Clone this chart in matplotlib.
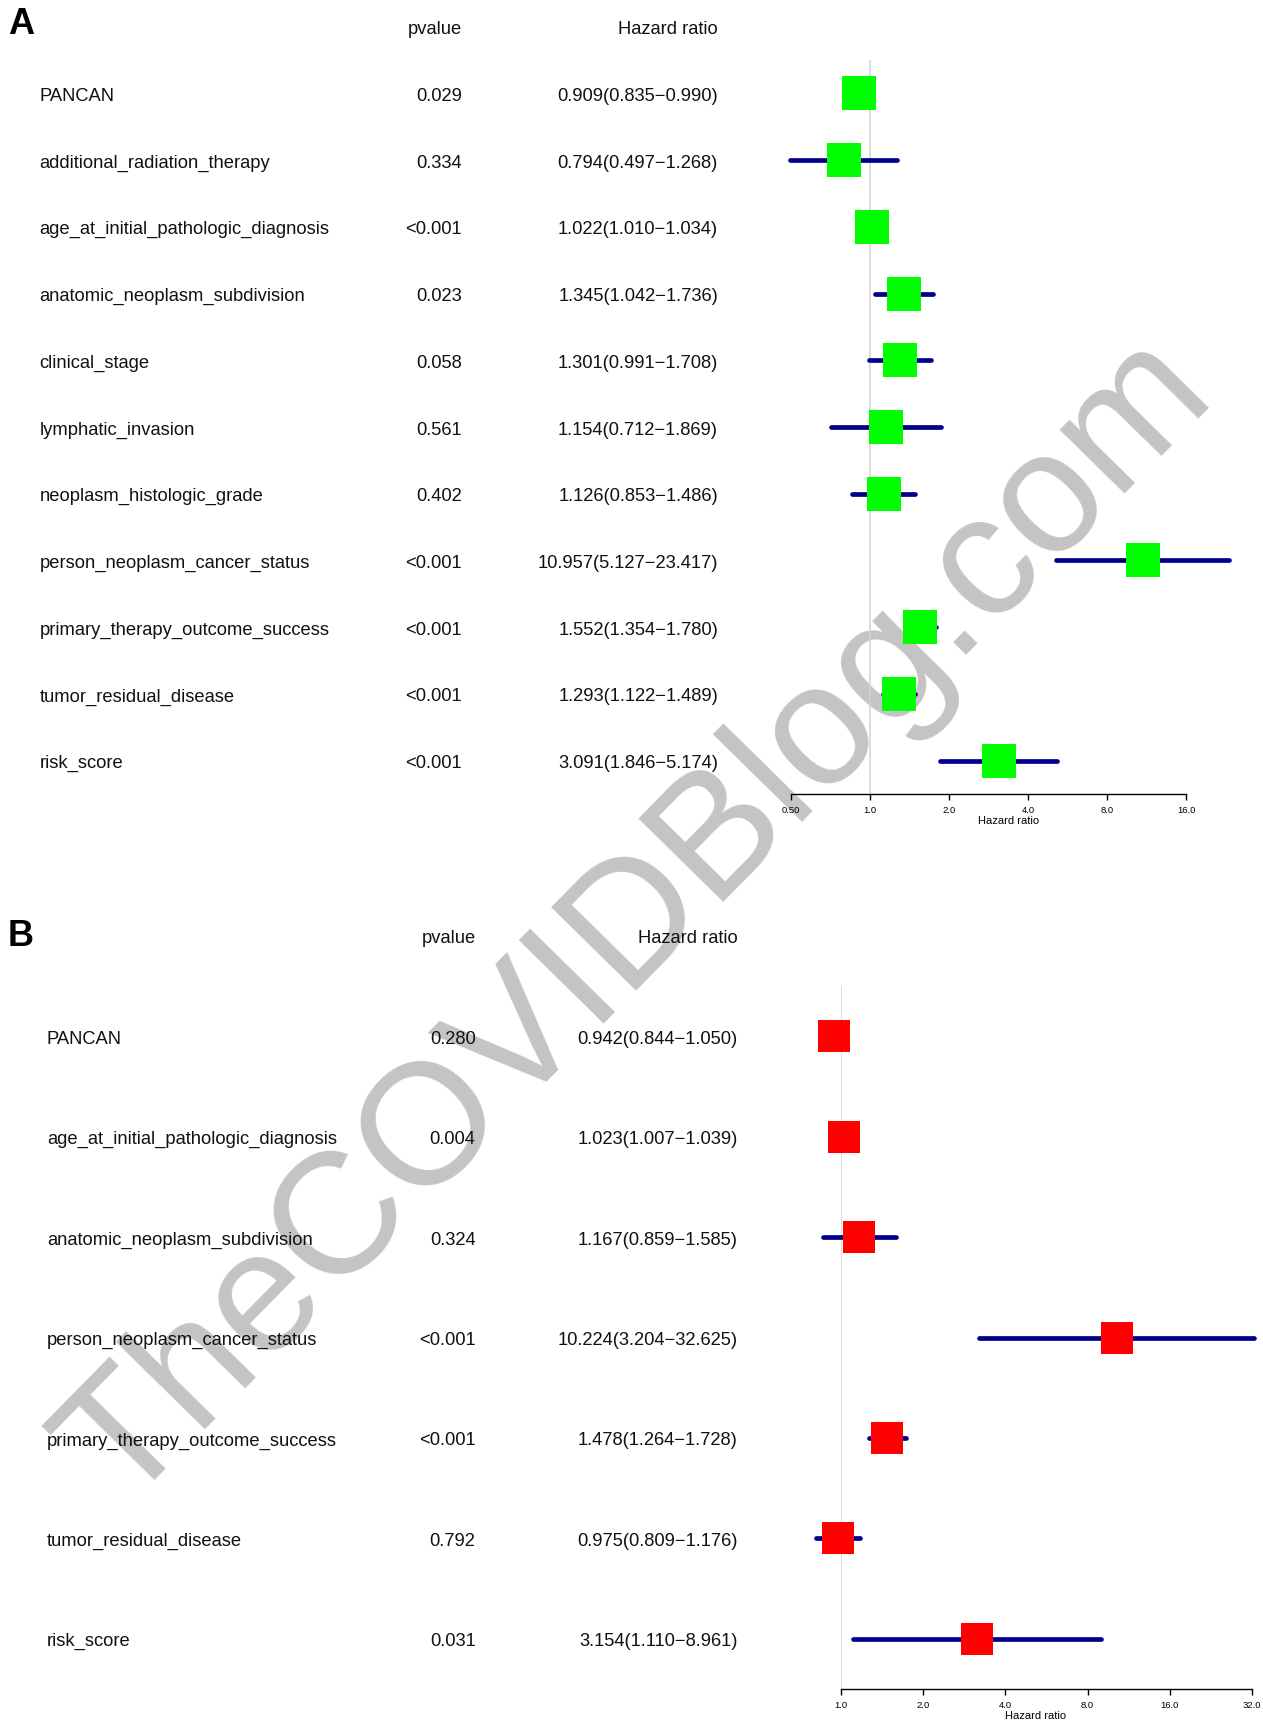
import matplotlib
matplotlib.use("Agg")
import matplotlib.pyplot as plt
import matplotlib.transforms as mtransforms
import numpy as np

plt.rcParams['font.family'] = ['Liberation Sans', 'DejaVu Sans']

# ---------------- data ----------------
a_names = ["PANCAN", "additional_radiation_therapy", "age_at_initial_pathologic_diagnosis",
           "anatomic_neoplasm_subdivision", "clinical_stage", "lymphatic_invasion",
           "neoplasm_histologic_grade", "person_neoplasm_cancer_status",
           "primary_therapy_outcome_success", "tumor_residual_disease", "risk_score"]
a_pvalue = ["0.029", "0.334", "<0.001", "0.023", "0.058", "0.561", "0.402",
            "<0.001", "<0.001", "<0.001", "<0.001"]
a_hr = [0.909, 0.794, 1.022, 1.345, 1.301, 1.154, 1.126, 10.957, 1.552, 1.293, 3.091]
a_low = [0.835, 0.497, 1.010, 1.042, 0.991, 0.712, 0.853, 5.127, 1.354, 1.122, 1.846]
a_high = [0.990, 1.268, 1.034, 1.736, 1.708, 1.869, 1.486, 23.417, 1.780, 1.489, 5.174]
a_ticks = [0.5, 1, 2, 4, 8, 16]
a_ticklabels = ["0.50", "1.0", "2.0", "4.0", "8.0", "16.0"]

b_names = ["PANCAN", "age_at_initial_pathologic_diagnosis", "anatomic_neoplasm_subdivision",
           "person_neoplasm_cancer_status", "primary_therapy_outcome_success",
           "tumor_residual_disease", "risk_score"]
b_pvalue = ["0.280", "0.004", "0.324", "<0.001", "<0.001", "0.792", "0.031"]
b_hr = [0.942, 1.023, 1.167, 10.224, 1.478, 0.975, 3.154]
b_low = [0.844, 1.007, 0.859, 3.204, 1.264, 0.809, 1.110]
b_high = [1.050, 1.039, 1.585, 32.625, 1.728, 1.176, 8.961]
b_ticks = [1, 2, 4, 8, 16, 32]
b_ticklabels = ["1.0", "2.0", "4.0", "8.0", "16.0", "32.0"]

W, H = 1263, 1722
fig = plt.figure(figsize=(W / 100, H / 100), dpi=100)

TXT = 13.2
NAVY = "#00008B"
TCOL = '#111111'


def px(x, y_top):
    return x / W, 1 - y_top / H


def panel(names, pvals, hr, low, high, ticks, ticklabels, box_color,
          ax_left, ax_right, ax_top, ax_bottom, xlim, xlabel_x,
          x_name, x_p, x_hr, y_header, box_pt, letter, letter_y):
    ax = fig.add_axes([ax_left / W, 1 - ax_bottom / H,
                       (ax_right - ax_left) / W, (ax_bottom - ax_top) / H])
    ax.patch.set_visible(False)
    n = len(names)
    y = np.arange(n)
    ax.set_xscale('log', base=2)
    ax.set_xlim(*xlim)
    ax.set_ylim(n - 0.5, -0.5)
    ax.axvline(1, color='#D3D3D3', lw=1.1, zorder=1)
    lc = ax.hlines(y, low, high, colors=NAVY, lw=3.4, zorder=2, clip_on=False)
    lc.set_capstyle('round')
    ax.plot(hr, y, 's', color=box_color, ms=box_pt, mew=0, zorder=3, clip_on=False)
    for s in ['top', 'right', 'left']:
        ax.spines[s].set_visible(False)
    ax.spines['bottom'].set_linewidth(1.0)
    ax.set_yticks([])
    ax.set_xticks(ticks)
    ax.set_xticklabels(ticklabels)
    ax.xaxis.set_minor_locator(matplotlib.ticker.NullLocator())
    ax.tick_params(axis='x', length=4.3, width=1.0, labelsize=6.8, pad=4.5, colors='black')
    ax.set_xlabel("Hazard ratio", fontsize=8)
    ax.xaxis.set_label_coords(xlabel_x, -22.0 / (ax_bottom - ax_top))

    off = mtransforms.ScaledTranslation(0, -3 / 100, fig.dpi_scale_trans)
    tr = mtransforms.blended_transform_factory(fig.transFigure, ax.transData) + off
    for i in range(n):
        ax.text(x_name / W, y[i], names[i], transform=tr, ha='left', va='center',
                fontsize=TXT, color=TCOL)
        ax.text(x_p / W, y[i], pvals[i], transform=tr, ha='right', va='center',
                fontsize=TXT, color=TCOL)
        ax.text(x_hr / W, y[i], f"{hr[i]:.3f}({low[i]:.3f}\u2212{high[i]:.3f})",
                transform=tr, ha='right', va='center', fontsize=TXT, color=TCOL)
    fig.text(*px(x_p, y_header), "pvalue", ha='right', va='center', fontsize=TXT, color=TCOL)
    fig.text(*px(x_hr, y_header), "Hazard ratio", ha='right', va='center', fontsize=TXT, color=TCOL)
    fig.text(*px(8, letter_y), letter, ha='left', va='center', fontsize=26, fontweight='bold')
    return ax


panel(a_names, a_pvalue, a_hr, a_low, a_high, a_ticks, a_ticklabels, "#00FF00",
      791, 1186, 60, 794, (0.5, 16), 0.552,
      39.5, 462, 718, 29, 24.5, "A", 25)

panel(b_names, b_pvalue, b_hr, b_low, b_high, b_ticks, b_ticklabels, "#FF0000",
      841, 1252, 986, 1689, (1, 32), 0.473,
      47, 475.6, 738, 939, 22.6, "B", 937)

# watermark (behind the chart content)
fig.text(122 / W, 1 - 1510 / H, "TheCOVIDBlog.com", fontsize=124, color='#C4C4C4',
         rotation=45.5, rotation_mode='anchor', ha='left', va='baseline',
         zorder=-1)

fig.savefig("out.png", dpi=100)
